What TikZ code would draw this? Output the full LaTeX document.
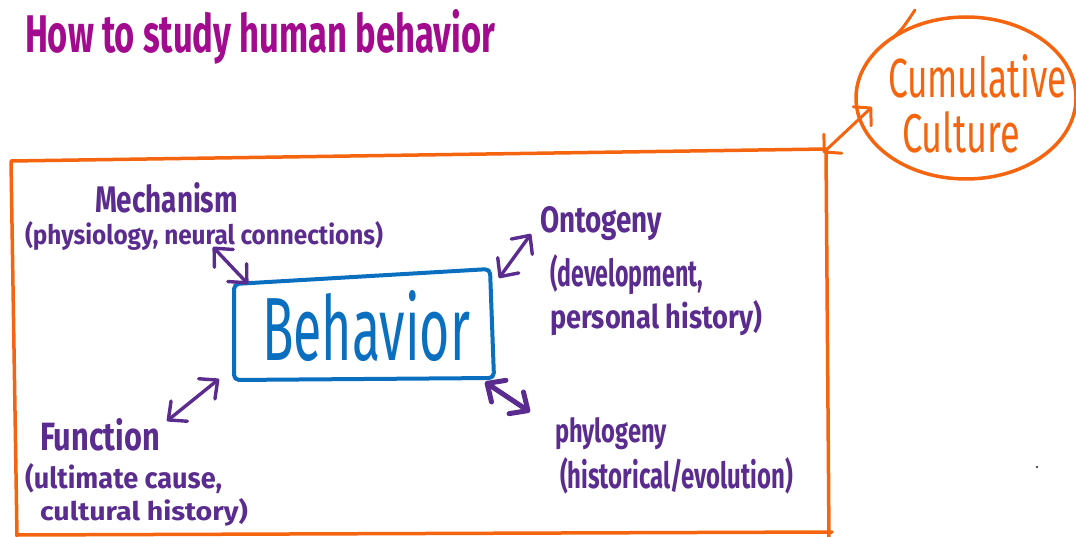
\documentclass[tikz,border=0pt]{standalone}
\usepackage{graphicx}
\usepackage{fontspec}
\setmainfont{Fira Sans}
\usetikzlibrary{arrows.meta,shapes.geometric}
\definecolor{mag}{HTML}{A20B8E}
\definecolor{org}{HTML}{F5650F}
\definecolor{blu}{HTML}{0B6FBF}
\definecolor{pur}{HTML}{5B2C8F}
\newcommand{\fitbox}[3]{\resizebox{#1pt}{#2pt}{#3}}
\begin{document}
\begin{tikzpicture}[x=1pt,y=-1pt,
  txt/.style={anchor=base west,inner sep=0pt,outer sep=0pt,font=\fontsize{20}{22}\selectfont},
  ttl/.style={txt,text=mag,font=\fontsize{20}{22}\selectfont\bfseries},
  plab/.style={txt,text=pur,font=\fontsize{20}{22}\selectfont\bfseries},
  olab/.style={txt,text=org},
  blab/.style={txt,text=blu},
  parrow/.style={pur,line width=3.4pt,line cap=round,line join=round,
    >={Straight Barb[length=14pt 0,width=26pt 0,line cap=round,line join=round]},<->},
  oarrow/.style={org,line width=3pt,line cap=round,line join=round,
    >={Straight Barb[length=12pt 0,width=26pt 0,line cap=round,line join=round]},<->},
  frame/.style={org,line width=3.5pt,line cap=round,line join=round},
  bbox/.style={blu,line width=4pt,rounded corners=5pt,line join=round}]
\useasboundingbox (0,0) rectangle (1076,537);

% title
\node[ttl] (title) at (25,53) {\fitbox{470}{43}{How to study human behavior}};

% orange frame
\draw[frame] (17,536) -- (11,161) -- (826,149) -- (829,540);
\draw[frame] (17,535) -- (832,532);

% cumulative culture ellipse
\node[ellipse,draw=org,line width=3.5pt,minimum width=220pt,minimum height=162pt] (cc) at (966,98) {};
\draw[org,line width=3pt,line cap=round] (893,38) .. controls (903,28) .. (915,10);
\node[olab] (cum) at (888,98) {\fitbox{179}{43}{Cumulative}};
\node[olab] (cul) at (902,153) {\fitbox{118}{41}{Culture}};
\coordinate (fc) at (823,153);
\coordinate (ce) at (872,107);
\draw[oarrow] (fc) -- (ce);

% behavior box
\node[blab] (beh) at (262,360) {\fitbox{208}{70}{Behavior}};
\draw[bbox] (234,284) -- (490,269) -- (494,378) -- (234,380) -- cycle;

% mechanism
\node[plab] (mech) at (95,213) {\fitbox{143}{30}{Mechanism}};
\node[plab] (mech2) at (25,245) {\fitbox{358}{23}{(physiology, neural connections)}};
\coordinate (m1) at (213,247);
\coordinate (m2) at (248,284);
\draw[parrow] (m1) -- (m2);

% ontogeny
\node[plab] (onto) at (540,233) {\fitbox{122}{26}{Ontogeny}};
\node[plab] (onto2) at (550,287) {\fitbox{153}{32}{(development,}};
\node[plab] (onto3) at (550,328) {\fitbox{212}{28}{personal history)}};
\coordinate (o1) at (531,234);
\coordinate (o2) at (499,278);
\draw[parrow] (o1) -- (o2);

% function
\node[plab] (func) at (40,450) {\fitbox{120}{32}{Function}};
\node[plab] (func2) at (25,488) {\fitbox{197}{25}{(ultimate cause,}};
\node[plab] (func3) at (40,520) {\fitbox{208}{22}{cultural history)}};
\coordinate (f1) at (219,379);
\coordinate (f2) at (167,421);
\draw[parrow] (f1) -- (f2);

% phylogeny
\node[plab] (phyl) at (555,442) {\fitbox{112}{25}{phylogeny}};
\node[plab] (phyl2) at (560,488) {\fitbox{233}{31}{(historical/evolution)}};
\coordinate (p1) at (485,382);
\coordinate (p2) at (530,412);
\draw[parrow,line width=5pt] (p1) -- (p2);

% stray dot
\fill[black!70] (1037,467) circle (1.3pt);
\end{tikzpicture}
\end{document}
